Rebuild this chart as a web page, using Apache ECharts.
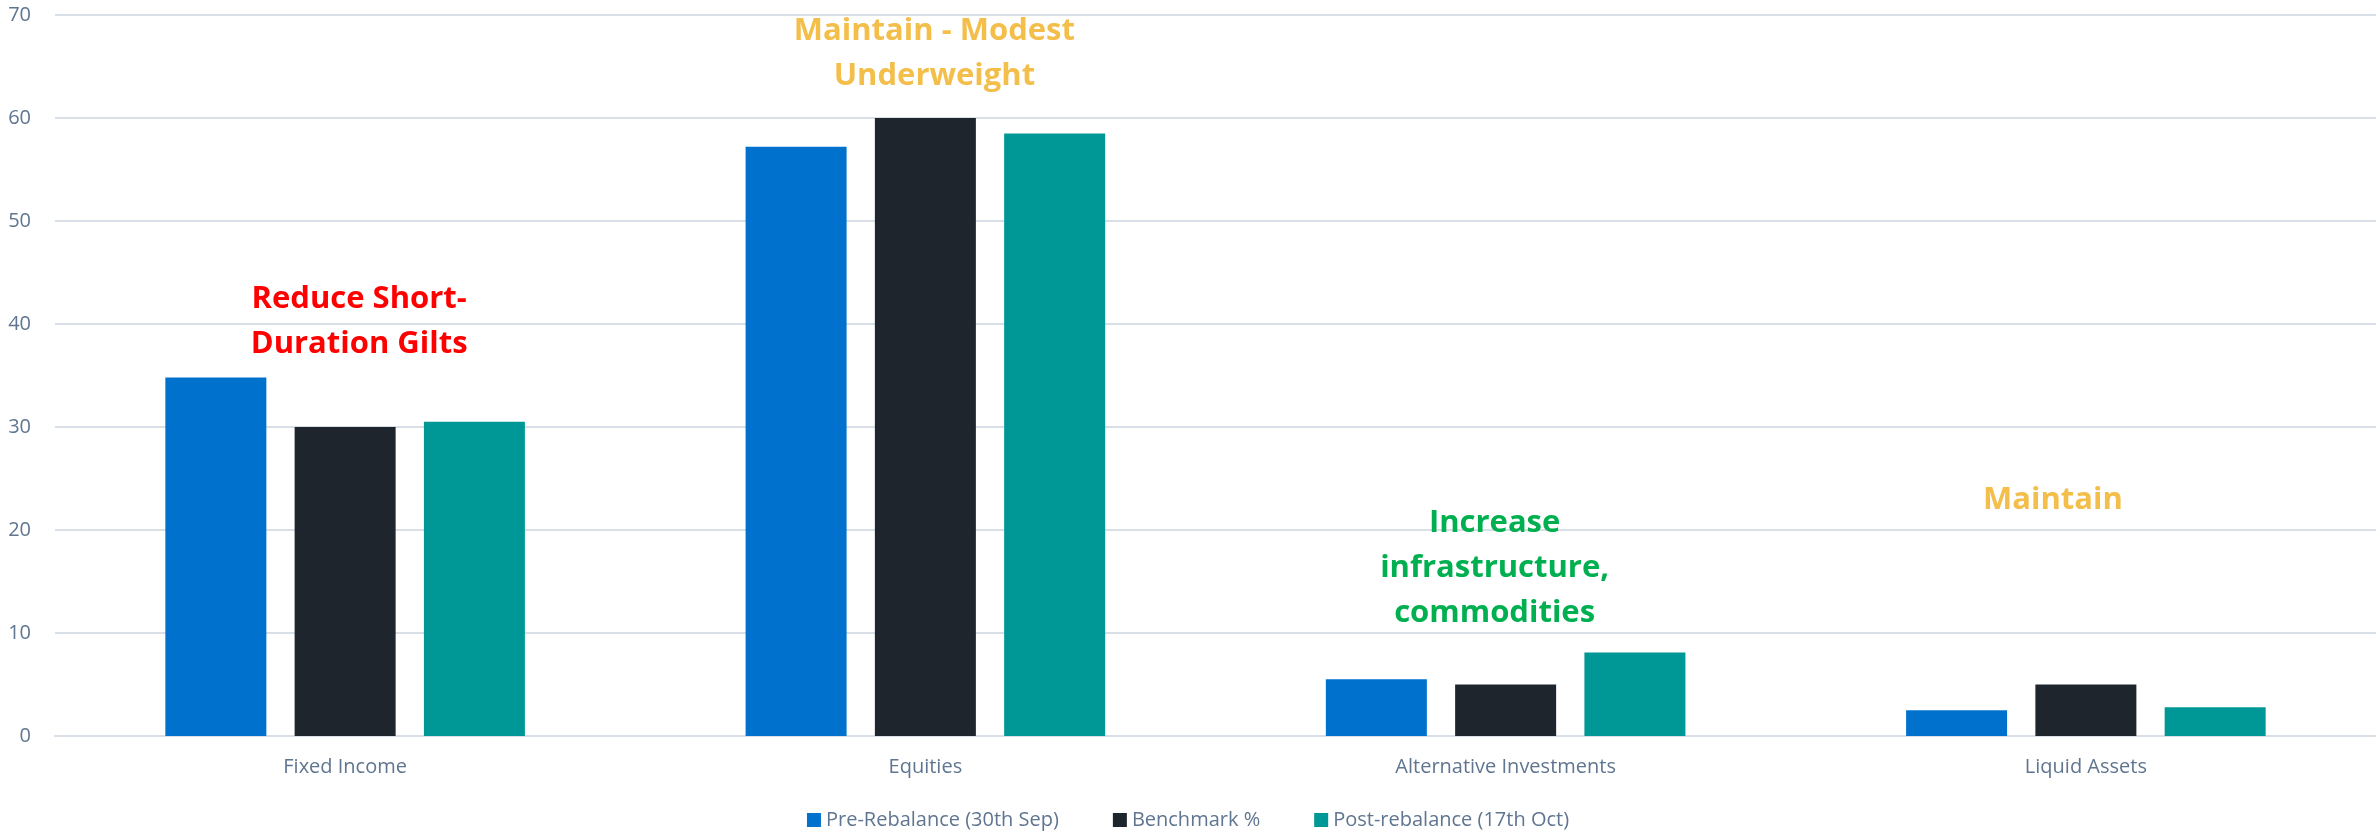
<!DOCTYPE html>
<html lang="en">
<head>
    <meta charset="UTF-8">
    <title>Rebalance</title>
    <script src="https://cdn.jsdelivr.net/npm/echarts@6/dist/echarts.min.js"></script>
    <style>
        html, body { margin: 0; padding: 0; background: #fff; }
        #chart { width: 2376px; height: 832px; }
    </style>
</head>
<body>
<div id="chart"></div>
<script>
    // data
    var categories = ['Fixed Income', 'Equities', 'Alternative Investments', 'Liquid Assets'];
    var seriesNames = ['Pre-Rebalance (30th Sep)', 'Benchmark %', 'Post-rebalance (17th Oct)'];
    var preRebalance = [34.8, 57.2, 5.5, 2.5];
    var benchmark = [30, 60, 5, 5];
    var postRebalance = [30.5, 58.5, 8.1, 2.8];
    var notes = ['Reduce Short-\nDuration Gilts', 'Maintain - Modest\nUnderweight', 'Increase\ninfrastructure,\ncommodities', 'Maintain'];
    var noteLevels = [40.2, 66.2, 16.3, 22.9];

    var noteColors = ['#ff0000', '#f3be4a', '#00b050', '#f3be4a'];
    var noteShift = [14, 9, -11, -33];
    var axisGrey = '#5f7590';

    var noteData = notes.map(function (txt, i) {
        return {
            value: [categories[i], noteLevels[i]],
            label: { formatter: txt, color: noteColors[i], offset: [noteShift[i], 0] }
        };
    });

    var chart = echarts.init(document.getElementById('chart'));
    var option = {
        animation: false,
        color: ['#0071cd', '#1f252d', '#009896'],
        grid: { left: 55, right: 0, top: 15, bottom: 96 },
        legend: {
            data: seriesNames,
            bottom: -3,
            left: 'center',
            icon: 'rect',
            itemWidth: 14,
            itemHeight: 14,
            itemGap: 54,
            textStyle: { color: axisGrey, fontSize: 20, fontFamily: 'Open Sans' }
        },
        xAxis: {
            type: 'category',
            data: categories,
            axisLine: { lineStyle: { color: '#d9dfe6', width: 2 } },
            axisTick: { show: false },
            axisLabel: { color: axisGrey, fontSize: 20, fontFamily: 'Open Sans', margin: 21 }
        },
        yAxis: {
            type: 'value',
            min: 0,
            max: 70,
            interval: 10,
            axisLine: { show: false },
            axisTick: { show: false },
            axisLabel: { color: axisGrey, fontSize: 20, fontFamily: 'Open Sans', margin: 24 },
            splitLine: { lineStyle: { color: '#d9dfe6', width: 2 } }
        },
        series: [
            { name: seriesNames[0], type: 'bar', data: preRebalance, barWidth: 101, barGap: '28%' },
            { name: seriesNames[1], type: 'bar', data: benchmark, barWidth: 101, barGap: '28%' },
            { name: seriesNames[2], type: 'bar', data: postRebalance, barWidth: 101, barGap: '28%' },
            {
                type: 'scatter',
                data: noteData,
                symbolSize: 0,
                silent: true,
                itemStyle: { opacity: 1 },
                label: {
                    show: true,
                    position: 'inside',
                    fontFamily: 'Open Sans',
                    fontWeight: 'bold',
                    fontSize: 31,
                    lineHeight: 45,
                    align: 'center',
                    opacity: 1
                }
            }
        ]
    };
    chart.setOption(option);
</script>
</body>
</html>
